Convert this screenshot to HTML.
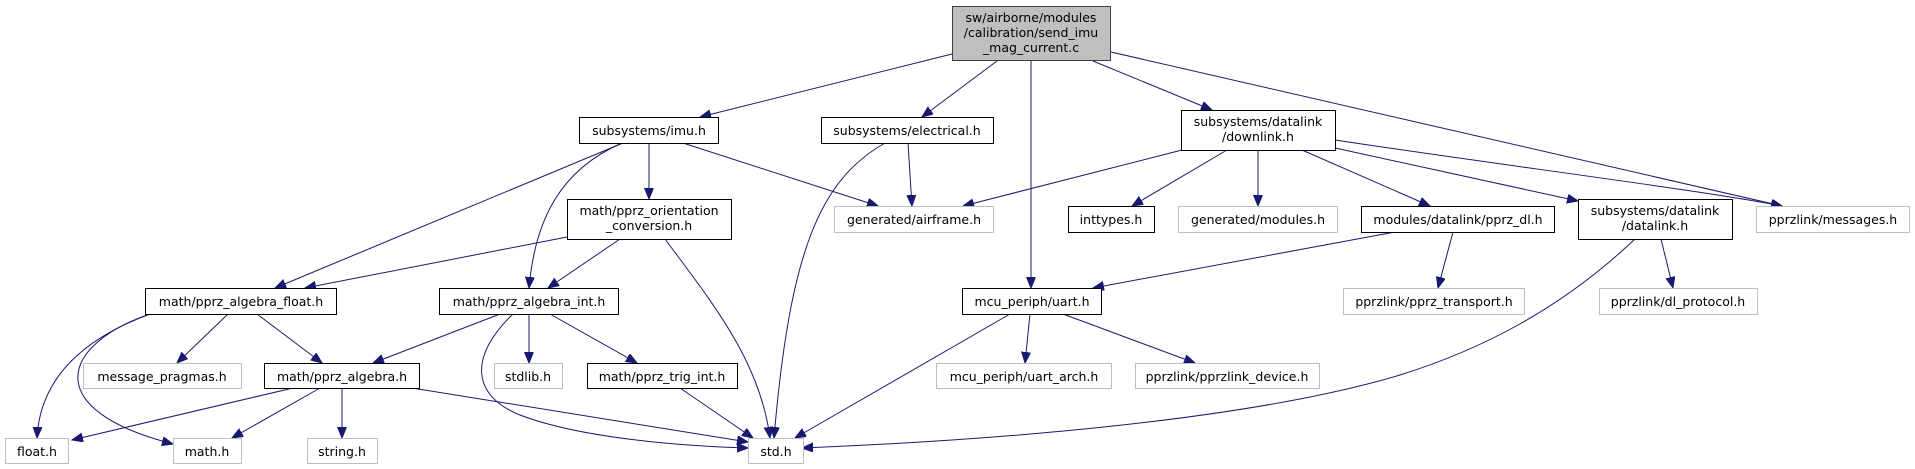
<!DOCTYPE html>
<html><head><meta charset="utf-8"><style>
html,body{margin:0;padding:0;background:#fff;}
svg{display:block;}
text{font-family:"DejaVu Sans","Liberation Sans",sans-serif;font-size:12.5px;fill:#000;text-anchor:middle;}
.n{fill:#fff;stroke:#000;stroke-width:1;}
.g{fill:#fff;stroke:#bfbfbf;stroke-width:1;}
.e{fill:none;stroke:#191970;stroke-width:1;}
</style></head><body>
<svg width="1915" height="469" viewBox="0 0 1915 469" xmlns="http://www.w3.org/2000/svg">
<defs>
<marker id="a" markerUnits="userSpaceOnUse" markerWidth="12" markerHeight="10" refX="11" refY="4.5" orient="auto">
<path d="M0,0 L11,4.5 L0,9 Z" fill="#191970" stroke="#191970"/>
</marker>
</defs>
<g marker-end="url(#a)">
<path class="e" d="M952,54 L700,117"/>
<path class="e" d="M997,61 L922,117"/>
<path class="e" d="M1031,61 L1031,288"/>
<path class="e" d="M1093,61 L1212,110"/>
<path class="e" d="M1111,52 L1782,206"/>
<path class="e" d="M623,143 L275,288"/>
<path class="e" d="M622,143 C560,170 535,220 529,288"/>
<path class="e" d="M649,143 L649,199"/>
<path class="e" d="M683,143 L878,206"/>
<path class="e" d="M885,143 C820,180 790,250 774,438"/>
<path class="e" d="M908,143 L912,206"/>
<path class="e" d="M567,237 L305,288"/>
<path class="e" d="M620,239 L548,288"/>
<path class="e" d="M665,239 C710,300 760,360 770,438"/>
<path class="e" d="M1182,150 L963,206"/>
<path class="e" d="M1227,150 L1132,206"/>
<path class="e" d="M1258,150 L1258,206"/>
<path class="e" d="M1302,150 L1430,206"/>
<path class="e" d="M1335,148 L1578,201"/>
<path class="e" d="M1335,140 C1500,165 1700,190 1782,206"/>
<path class="e" d="M1395,232 L1093,288"/>
<path class="e" d="M1453,232 L1438,288"/>
<path class="e" d="M1661,239 L1673,288"/>
<path class="e" d="M1635,239 C1560,310 1480,350 1400,375 C1250,420 1000,440 802,448"/>
<path class="e" d="M1010,314 L795,438"/>
<path class="e" d="M1030,314 L1025,363"/>
<path class="e" d="M1063,314 L1195,363"/>
<path class="e" d="M150,314 C80,340 40,380 37,438"/>
<path class="e" d="M150,314 C60,345 40,410 173,444"/>
<path class="e" d="M228,314 L177,363"/>
<path class="e" d="M257,314 L322,363"/>
<path class="e" d="M500,314 L373,363"/>
<path class="e" d="M529,314 L529,363"/>
<path class="e" d="M550,314 L637,363"/>
<path class="e" d="M513,314 C470,355 470,395 520,415 C580,438 680,446 748,448"/>
<path class="e" d="M412,388 L748,442"/>
<path class="e" d="M293,388 L72,440"/>
<path class="e" d="M320,388 L232,438"/>
<path class="e" d="M342,388 L342,438"/>
<path class="e" d="M680,388 L753,438"/>
</g>

<rect x="952.5" y="6.5" width="158" height="54" fill="#bfbfbf" stroke="#404040"/>
<text x="1031" y="22">sw/airborne/modules</text>
<text x="1031" y="37">/calibration/send_imu</text>
<text x="1031" y="52">_mag_current.c</text>

<rect class="n" x="579.5" y="117.5" width="139" height="26"/><text x="649" y="135">subsystems/imu.h</text>
<rect class="n" x="821.5" y="117.5" width="172" height="26"/><text x="907" y="135">subsystems/electrical.h</text>
<rect class="n" x="1181.5" y="110.5" width="154" height="40"/><text x="1258" y="126">subsystems/datalink</text><text x="1258" y="141">/downlink.h</text>

<rect class="n" x="567.5" y="199.5" width="164" height="40"/><text x="649" y="215">math/pprz_orientation</text><text x="649" y="230">_conversion.h</text>
<rect class="g" x="834.5" y="206.5" width="159" height="26"/><text x="914" y="224">generated/airframe.h</text>
<rect class="n" x="1068.5" y="206.5" width="86" height="26"/><text x="1111" y="224">inttypes.h</text>
<rect class="g" x="1178.5" y="206.5" width="159" height="26"/><text x="1258" y="224">generated/modules.h</text>
<rect class="n" x="1361.5" y="206.5" width="193" height="26"/><text x="1458" y="224">modules/datalink/pprz_dl.h</text>
<rect class="n" x="1578.5" y="199.5" width="154" height="40"/><text x="1655" y="215">subsystems/datalink</text><text x="1655" y="230">/datalink.h</text>
<rect class="g" x="1756.5" y="206.5" width="153" height="26"/><text x="1833" y="224">pprzlink/messages.h</text>

<rect class="n" x="145.5" y="288.5" width="191" height="26"/><text x="241" y="306">math/pprz_algebra_float.h</text>
<rect class="n" x="439.5" y="288.5" width="179" height="26"/><text x="529" y="306">math/pprz_algebra_int.h</text>
<rect class="n" x="962.5" y="288.5" width="139" height="26"/><text x="1032" y="306">mcu_periph/uart.h</text>
<rect class="g" x="1343.5" y="288.5" width="181" height="26"/><text x="1434" y="306">pprzlink/pprz_transport.h</text>
<rect class="g" x="1599.5" y="288.5" width="158" height="26"/><text x="1678" y="306">pprzlink/dl_protocol.h</text>

<rect class="g" x="83.5" y="363.5" width="158" height="25"/><text x="162" y="381">message_pragmas.h</text>
<rect class="n" x="264.5" y="363.5" width="155" height="25"/><text x="342" y="381">math/pprz_algebra.h</text>
<rect class="g" x="494.5" y="363.5" width="68" height="25"/><text x="528" y="381">stdlib.h</text>
<rect class="n" x="587.5" y="363.5" width="150" height="25"/><text x="662" y="381">math/pprz_trig_int.h</text>
<rect class="g" x="936.5" y="363.5" width="175" height="25"/><text x="1024" y="381">mcu_periph/uart_arch.h</text>
<rect class="g" x="1135.5" y="363.5" width="184" height="25"/><text x="1227" y="381">pprzlink/pprzlink_device.h</text>

<rect class="g" x="5.5" y="438.5" width="63" height="25"/><text x="37" y="456">float.h</text>
<rect class="g" x="173.5" y="438.5" width="68" height="25"/><text x="207" y="456">math.h</text>
<rect class="g" x="307.5" y="438.5" width="70" height="25"/><text x="342" y="456">string.h</text>
<rect class="g" x="748.5" y="438.5" width="55" height="25"/><text x="776" y="456">std.h</text>
</svg>
</body></html>
